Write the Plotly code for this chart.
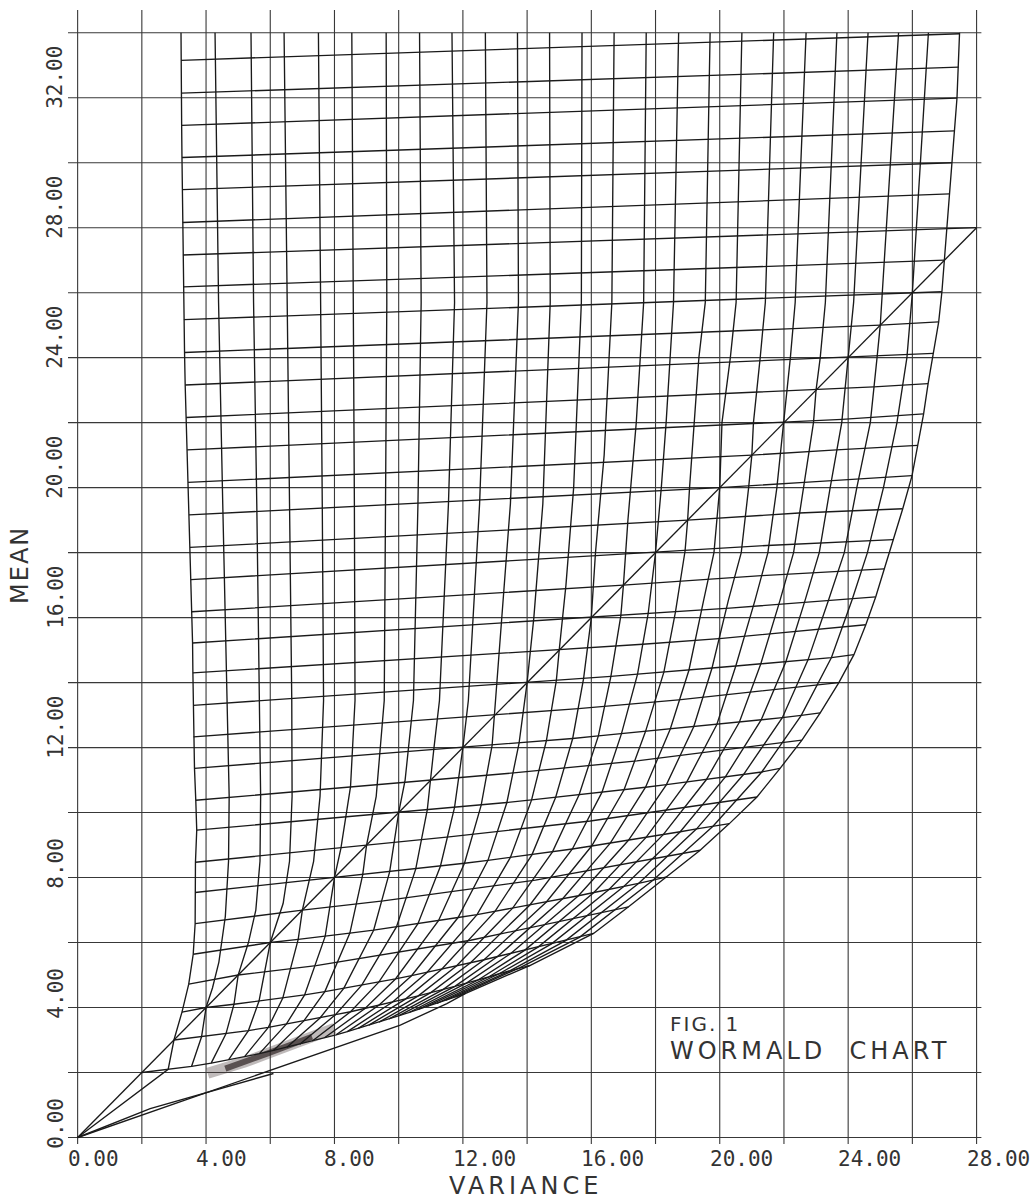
import plotly.graph_objects as go

# ---------------- axis / tick data ----------------
x_ticks = [0, 4, 8, 12, 16, 20, 24, 28]
x_tick_labels = ["0.00", "4.00", "8.00", "12.00", "16.00", "20.00", "24.00", "28.00"]
y_ticks = [0, 4, 8, 12, 16, 20, 24, 28, 32]
y_tick_labels = ["0.00", "4.00", "8.00", "12.00", "16.00", "20.00", "24.00", "28.00", "32.00"]
grid_x = [0, 2, 4, 6, 8, 10, 12, 14, 16, 18, 20, 22, 24, 26, 28]
grid_y = [0, 2, 4, 6, 8, 10, 12, 14, 16, 18, 20, 22, 24, 26, 28, 30, 32, 34]

# ---------------- chart lines ----------------
diag_x = [0, 28]
diag_y = [0, 28]

# left edge of the mesh: left ends of the mean lines m = 4 .. 34
left_m = list(range(4, 35))
left_x = [3.25, 3.46, 3.60, 3.66, 3.66, 3.67, 3.71, 3.68, 3.64, 3.61, 3.60, 3.59, 3.58, 3.56, 3.53,
          3.50, 3.47, 3.44, 3.41, 3.38, 3.35, 3.33, 3.31, 3.29, 3.28, 3.27, 3.26, 3.25, 3.24, 3.23, 3.22]
left_y = [3.86, 4.72, 5.64, 6.58, 7.54, 8.47, 9.46, 10.38, 11.36, 12.33, 13.30, 14.30, 15.22, 16.18,
          17.17, 18.16, 19.16, 20.16, 21.16, 22.16, 23.16, 24.16, 25.17, 26.18, 27.16, 28.16, 29.17,
          30.16, 31.15, 32.14, 33.15]
# leftmost variance curve below the diagonal, down to the origin
v3_tail_x = [3.00, 2.82, 0.00]
v3_tail_y = [3.00, 2.10, 0.00]

# right boundary (variance curve 27) down to the origin
v27_x = [27.47, 27.44, 27.39, 27.31, 27.23, 27.16, 27.08, 27.00, 26.92, 26.82, 26.65, 26.49, 26.35,
         26.16, 25.99, 25.70, 25.41, 25.12, 24.86, 24.55, 24.18, 23.71, 23.13, 22.56, 21.88, 21.16,
         20.30, 19.39, 18.35, 17.16, 16.07, 14.10, 12.07, 11.50, 10.05, 0.00]
v27_y = [34.00, 32.94, 31.99, 30.98, 30.00, 29.04, 28.00, 27.00, 26.03, 25.10, 24.13, 23.20, 22.27,
         21.30, 20.37, 19.35, 18.40, 17.50, 16.64, 15.78, 14.86, 14.00, 13.07, 12.23, 11.36, 10.48,
         9.66, 8.84, 8.02, 7.10, 6.28, 5.30, 4.43, 4.12, 3.46, 0.00]

# variance curves j = 4 .. 26, points read from the top down to about mean 16
v_j = list(range(4, 27))
v_read_x = [
    [4.28, 4.39, 4.52, 4.65, 4.72, 4.70, 4.60, 4.40, 4.20, 4.00],
    [5.40, 5.48, 5.58, 5.66, 5.70, 5.68, 5.55, 5.32, 5.00],
    [6.43, 6.54, 6.60, 6.67, 6.68, 6.60, 6.40, 6.00],
    [7.50, 7.58, 7.62, 7.66, 7.55, 7.35, 7.00],
    [8.54, 8.59, 8.62, 8.64, 8.50, 8.20, 8.00],
    [9.61, 9.63, 9.59, 9.55, 9.30, 9.00],
    [10.65, 10.70, 10.60, 10.46, 10.20, 10.00],
    [11.66, 11.74, 11.55, 11.27, 11.10, 11.00],
    [12.70, 12.75, 12.52, 12.17, 12.00],
    [13.70, 13.73, 13.48, 13.22, 13.00],
    [14.70, 14.72, 14.49, 14.21, 14.00],
    [15.71, 15.69, 15.45, 15.21, 15.00],
    [16.71, 16.64, 16.40, 16.13, 16.00],
    [17.71, 17.63, 17.40, 17.14, 17.00, 16.92],
    [18.72, 18.56, 18.33, 18.18, 18.00, 17.77],
    [19.70, 19.55, 19.35, 19.20, 19.06, 19.00, 18.92, 18.62],
    [20.69, 20.51, 20.33, 20.07, 20.00, 19.82, 19.50],
    [21.68, 21.42, 21.26, 21.05, 21.00, 20.90, 20.67, 20.27],
    [22.69, 22.35, 22.20, 22.00, 21.78, 21.50, 21.10],
    [23.65, 23.29, 23.13, 23.00, 22.92, 22.61, 22.30, 21.88],
    [24.62, 24.17, 24.00, 23.80, 23.44, 23.10, 22.66],
    [25.57, 25.05, 25.00, 24.90, 24.69, 24.27, 23.88, 23.39],
    [26.50, 26.00, 25.83, 25.52, 25.10, 24.60, 24.12],
]
v_read_y = [
    [34, 25.7, 19.5, 13.45, 10.5, 8.5, 6.8, 5.4, 4.6, 4.0],
    [34, 25.7, 19.5, 13.45, 10.5, 8.5, 7.0, 6.0, 5.0],
    [34, 25.7, 19.5, 13.45, 10.5, 8.5, 7.2, 6.0],
    [34, 25.7, 19.5, 13.45, 10.5, 8.5, 7.0],
    [34, 25.7, 19.5, 13.45, 10.8, 8.9, 8.0],
    [34, 25.7, 19.5, 13.45, 10.5, 9.0],
    [34, 25.7, 19.5, 13.45, 11.0, 10.0],
    [34, 25.7, 19.5, 13.45, 12.0, 11.0],
    [34, 25.7, 19.5, 13.45, 12.0],
    [34, 25.7, 19.5, 16.0, 13.0],
    [34, 25.7, 19.5, 16.0, 14.0],
    [34, 25.7, 20.0, 17.0, 15.0],
    [34, 25.7, 21.0, 18.0, 16.0],
    [34, 25.7, 22.0, 19.0, 17.0, 16.06],
    [34, 25.7, 22.0, 20.0, 18.0, 16.12],
    [34, 25.7, 24.0, 22.0, 20.0, 19.0, 18.05, 16.17],
    [34, 25.7, 24.0, 22.0, 20.0, 18.0, 16.54],
    [34, 25.7, 24.0, 22.0, 21.0, 20.0, 18.0, 16.54],
    [34, 25.7, 24.0, 22.0, 20.0, 18.0, 16.54],
    [34, 25.7, 24.0, 23.0, 22.0, 20.0, 18.0, 16.54],
    [34, 25.7, 24.0, 22.0, 20.0, 18.0, 16.54],
    [34, 25.7, 25.0, 24.0, 22.0, 20.0, 18.0, 16.54],
    [34, 26.0, 24.0, 22.0, 20.0, 18.0, 16.54],
]

# mesh nodes below the diagonal on mean lines m (variance curves j = m+1 .. 27)
row_levels = [14, 12, 10, 8, 6, 4, 3, 2]
row_nodes_x = {
    14: [14.91, 15.76, 16.61, 17.44, 18.26, 19.04, 19.76, 20.50, 21.28, 22.06, 22.75, 23.48, 24.18],
    12: [12.91, 13.75, 14.60, 15.42, 16.22, 16.94, 17.69, 18.46, 19.19, 19.91, 20.61, 21.29, 21.95,
         22.54, 23.13],
    10: [10.89, 11.74, 12.57, 13.37, 14.14, 14.89, 15.62, 16.33, 17.02, 17.69, 18.34, 18.97, 19.58,
         20.17, 20.74, 21.31, 21.88],
    8: [8.88, 9.72, 10.53, 11.30, 12.05, 12.78, 13.48, 14.15, 14.79, 15.41, 16.01, 16.59, 17.15, 17.70,
        18.24, 18.77, 19.28, 19.79, 20.30],
    6: [6.87, 7.71, 8.48, 9.22, 9.93, 10.60, 11.24, 11.85, 12.44, 13.00, 13.55, 14.08, 14.60, 15.10,
        15.60, 16.08, 16.55, 17.02, 17.47, 17.92, 18.35],
    4: [4.87, 5.65, 6.39, 7.07, 7.70, 8.29, 8.85, 9.38, 9.90, 10.40, 10.88, 11.34, 11.79, 12.23, 12.66,
        13.08, 13.50, 13.92, 14.34, 14.76, 15.20, 15.63, 16.07],
    3: [3.86, 4.62, 5.32, 5.94, 6.50, 7.04, 7.55, 8.03, 8.50, 8.95, 9.38, 9.80, 10.21, 10.61, 11.00,
        11.38, 11.75, 12.11, 12.46, 12.80, 13.13, 13.46, 13.78, 14.10],
    2: [2.82, 3.55, 4.16, 4.70, 5.20, 5.66, 6.10, 6.52, 6.92, 7.31, 7.69, 8.05, 8.40, 8.74, 9.07, 9.39,
        9.70, 10.01, 10.31, 10.61, 10.90, 11.19, 11.47, 11.77, 12.07],
}
row_nodes_y = {
    14: [14.06, 14.13, 14.19, 14.26, 14.32, 14.38, 14.45, 14.51, 14.58, 14.64, 14.70, 14.77, 14.86],
    12: [12.07, 12.14, 12.21, 12.28, 12.36, 12.43, 12.50, 12.57, 12.64, 12.71, 12.78, 12.85, 12.92,
         12.99, 13.07],
    10: [10.08, 10.16, 10.23, 10.31, 10.39, 10.47, 10.55, 10.62, 10.70, 10.78, 10.86, 10.94, 11.01,
         11.09, 11.17, 11.25, 11.36],
    8: [8.09, 8.18, 8.26, 8.35, 8.44, 8.53, 8.62, 8.70, 8.79, 8.88, 8.97, 9.06, 9.14, 9.23, 9.32, 9.41,
        9.50, 9.58, 9.66],
    6: [6.10, 6.19, 6.29, 6.38, 6.48, 6.58, 6.67, 6.77, 6.86, 6.96, 7.06, 7.15, 7.25, 7.34, 7.44, 7.54,
        7.63, 7.73, 7.82, 7.92, 8.02],
    4: [4.10, 4.20, 4.29, 4.39, 4.49, 4.59, 4.69, 4.78, 4.88, 4.98, 5.08, 5.18, 5.27, 5.37, 5.47, 5.57,
        5.67, 5.76, 5.86, 5.96, 6.06, 6.16, 6.28],
    3: [3.10, 3.19, 3.29, 3.39, 3.49, 3.58, 3.68, 3.78, 3.87, 3.97, 4.07, 4.16, 4.26, 4.36, 4.46, 4.55,
        4.65, 4.75, 4.84, 4.94, 5.04, 5.13, 5.23, 5.30],
    2: [2.10, 2.19, 2.29, 2.39, 2.49, 2.58, 2.68, 2.78, 2.87, 2.97, 3.07, 3.16, 3.26, 3.36, 3.46, 3.55,
        3.65, 3.75, 3.84, 3.94, 4.04, 4.13, 4.23, 4.33, 4.43],
}

# remaining mean lines (read as left end, diagonal point, inner points, right end)
other_m = [5, 7, 9, 11, 13, 15, 16, 17, 18, 19, 20, 21, 22, 23, 24, 25, 26, 27, 28, 29, 30, 31, 32, 33, 34]
other_x = [
    [3.46, 5.00, 7.43, 12.24, 17.16],
    [3.66, 7.00, 9.52, 14.26, 19.39],
    [3.67, 9.00, 11.57, 15.97, 21.16],
    [3.68, 11.00, 13.58, 17.42, 22.56],
    [3.61, 13.00, 15.60, 18.72, 23.71],
    [3.59, 15.00, 17.60, 20.08, 24.55],
    [3.58, 16.00, 20.31, 24.86],
    [3.56, 17.00, 21.30, 25.12],
    [3.53, 18.00, 21.47, 25.41],
    [3.50, 19.00, 22.47, 25.70],
    [3.47, 20.00, 22.63, 25.99],
    [3.44, 21.00, 23.64, 26.16],
    [3.41, 22.00, 23.81, 26.35],
    [3.38, 23.00, 24.80, 26.49],
    [3.35, 24.00, 24.93, 26.65],
    [3.33, 25.00, 26.82],
    [3.31, 26.00, 26.92],
    [3.29, 27.00],
    [3.28, 28.00],
    [3.27, 27.16],
    [3.26, 27.23],
    [3.25, 27.31],
    [3.24, 27.39],
    [3.23, 27.44],
    [3.22, 27.47],
]
other_y = [
    [4.72, 5.00, 5.29, 6.07, 7.10],
    [6.58, 7.00, 7.28, 7.92, 8.84],
    [8.47, 9.00, 9.25, 9.74, 10.48],
    [10.38, 11.00, 11.22, 11.59, 12.23],
    [12.33, 13.00, 13.20, 13.47, 14.00],
    [14.30, 15.00, 15.18, 15.36, 15.78],
    [15.22, 16.00, 16.29, 16.64],
    [16.18, 17.00, 17.29, 17.50],
    [17.17, 18.00, 18.22, 18.40],
    [18.16, 19.00, 19.22, 19.35],
    [19.16, 20.00, 20.16, 20.37],
    [20.16, 21.00, 21.16, 21.30],
    [21.16, 22.00, 22.10, 22.27],
    [22.16, 23.00, 23.10, 23.20],
    [23.16, 24.00, 24.05, 24.13],
    [24.16, 25.00, 25.10],
    [25.17, 26.00, 26.03],
    [26.18, 27.00],
    [27.16, 28.00],
    [28.16, 29.04],
    [29.17, 30.00],
    [30.16, 30.98],
    [31.15, 31.99],
    [32.14, 32.94],
    [33.15, 33.97],
]

# short stray line near the origin and the heavy ink smudge in the lower left
ray_x = [0.00, 2.26, 6.10]
ray_y = [0.00, 0.89, 1.97]
smudge_x = [4.05, 4.60, 5.20, 5.90, 6.60, 7.30, 8.00]
smudge_y = [1.98, 2.12, 2.32, 2.58, 2.84, 3.10, 3.36]

INK = "#1a1a1a"
GRID = "#383838"

fig = go.Figure()


def add_lines(xs, ys, color, width, opacity=1.0):
    fig.add_trace(go.Scatter(x=xs, y=ys, mode="lines", opacity=opacity,
                             line=dict(color=color, width=width),
                             hoverinfo="skip", showlegend=False))


# ---- grid (with small overhangs acting as ticks) ----
gx, gy = [], []
for v in grid_x:
    gx += [v, v, None]
    gy += [-0.2, 34.7, None]
for v in grid_y:
    gx += [-0.3, 28.15, None]
    gy += [v, v, None]
add_lines(gx, gy, GRID, 1.1)

# ---- mesh ----
mx, my = [], []


def put(xs, ys):
    mx.extend(list(xs) + [None])
    my.extend(list(ys) + [None])


put(diag_x, diag_y)
# left boundary (curve j = 3)
put([3.22] + left_x[::-1] + v3_tail_x, [34.0] + left_y[::-1] + v3_tail_y)
# right boundary (curve j = 27)
put(v27_x, v27_y)

# variance curves j = 4 .. 26
for k, j in enumerate(v_j):
    xs = list(v_read_x[k])
    ys = list(v_read_y[k])
    last_y = ys[-1]
    for m in row_levels:
        if m < j:
            idx = j - m - 1
            ny = row_nodes_y[m][idx]
            if ny < last_y - 1e-6:
                xs.append(row_nodes_x[m][idx])
                ys.append(ny)
                last_y = ny
    put(xs, ys)

# mean lines with full node rows
for m in row_levels:
    xs, ys = [], []
    if m >= 4:
        i = left_m.index(m)
        xs.append(left_x[i])
        ys.append(left_y[i])
    xs.append(m)
    ys.append(m)
    xs += row_nodes_x[m]
    ys += row_nodes_y[m]
    put(xs, ys)

# other mean lines
for xs, ys in zip(other_x, other_y):
    put(xs, ys)

put(ray_x, ray_y)

# ink smudge (drawn beneath the mesh)
add_lines(smudge_x, smudge_y, "#4a3c3c", 11, opacity=0.35)
add_lines(smudge_x[1:-1], smudge_y[1:-1], "#2e2424", 6, opacity=0.7)

add_lines(mx, my, INK, 1.35)

# ---- texts ----
FONT_T = "DejaVu Sans Mono"
ann = []
for v, t in zip(x_ticks, x_tick_labels):
    ann.append(dict(x=v, y=0, xref="x", yref="y", text=t, showarrow=False, xanchor="left",
                    yanchor="middle", xshift=-12, yshift=-21,
                    font=dict(family=FONT_T, size=21, color="#333")))
for v, t in zip(y_ticks, y_tick_labels):
    ann.append(dict(x=0, y=v, xref="x", yref="y", text=t, showarrow=False, xanchor="center",
                    yanchor="bottom", xshift=-22, yshift=-13, textangle=-90,
                    font=dict(family=FONT_T, size=21, color="#333")))

ann.append(dict(x=0.4995, y=-0.0508, xref="paper", yref="paper",
                text='<span style="letter-spacing:4px">VARIANCE</span>', showarrow=False,
                xanchor="center", yanchor="bottom",
                font=dict(family="DejaVu Sans", size=24, color="#333")))
ann.append(dict(x=-0.0525, y=0.5106, xref="paper", yref="paper",
                text='<span style="letter-spacing:2px">MEAN</span>', showarrow=False,
                xanchor="center", yanchor="middle", textangle=-90,
                font=dict(family="DejaVu Sans", size=24, color="#333")))
ann.append(dict(x=18.4, y=3.49, xref="x", yref="y",
                text='<span style="letter-spacing:2px">FIG. 1</span>', showarrow=False,
                xanchor="left", yanchor="middle",
                font=dict(family="DejaVu Sans", size=20, color="#333")))
ann.append(dict(x=18.4, y=2.67, xref="x", yref="y",
                text='<span style="letter-spacing:4px">WORMALD  CHART</span>', showarrow=False,
                xanchor="left", yanchor="middle",
                font=dict(family="DejaVu Sans", size=24, color="#333")))

fig.update_layout(
    width=1036, height=1202,
    margin=dict(l=68, r=53, t=10, b=58),
    paper_bgcolor="white", plot_bgcolor="white",
    xaxis=dict(range=[-0.3, 28.2], visible=False),
    yaxis=dict(range=[-0.2, 34.7], visible=False),
    annotations=ann,
)

fig.write_html("out.html")
